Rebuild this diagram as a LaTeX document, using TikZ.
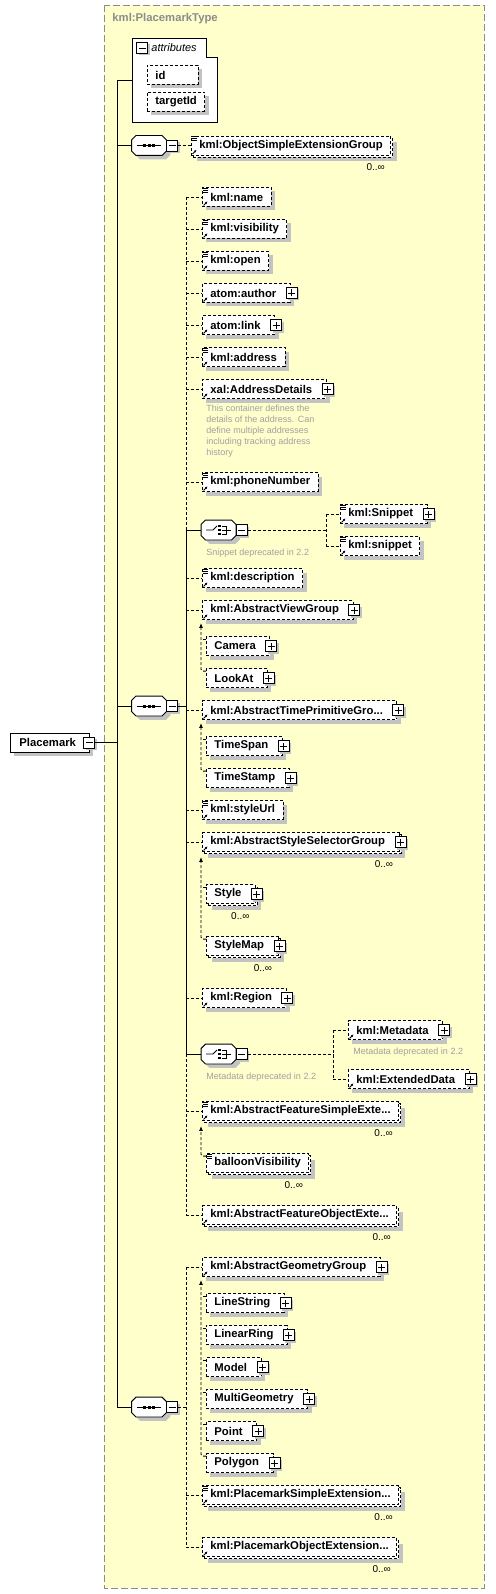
\documentclass[tikz,border=0pt]{standalone}
\usepackage{fontspec}
\setmainfont{Liberation Sans}
\usetikzlibrary{arrows.meta}
\usetikzlibrary{shadows}

\definecolor{typefill}{HTML}{FFFFCC}
\definecolor{typeframe}{HTML}{8C8C8C}
\definecolor{shadegray}{HTML}{C3C3C3}
\definecolor{notetext}{HTML}{A0A0A0}

\tikzset{
  lbl/.style={font=\fontsize{11.3}{13}\selectfont\bfseries},
  dropshade/.style={drop shadow={shadow xshift=4pt,shadow yshift=-4pt,fill=shadegray,opacity=1}},
  elem/.style={lbl,draw,densely dashed,fill=white,anchor=west,minimum height=19pt,inner xsep=8pt,inner ysep=0pt,dropshade},
  multi/.style={lbl,draw,densely dashed,fill=white,anchor=west,minimum height=19pt,inner xsep=8pt,inner ysep=0pt,
    drop shadow={shadow xshift=6pt,shadow yshift=-6pt,fill=shadegray,opacity=1},
    copy shadow={shadow xshift=2pt,shadow yshift=-2pt,draw,densely dashed,fill=white}},
  more/.style={execute at end node={\hspace{6pt}}},
  btn/.style={draw,solid,fill=white,minimum size=11pt,inner sep=0pt,
    drop shadow={shadow xshift=2pt,shadow yshift=-2pt,fill=shadegray,opacity=1}},
  plus/.style={btn,path picture={
    \draw[solid] ([xshift=2pt]path picture bounding box.west) -- ([xshift=-2pt]path picture bounding box.east);
    \draw[solid] ([yshift=2pt]path picture bounding box.south) -- ([yshift=-2pt]path picture bounding box.north);}},
  minus/.style={btn,path picture={
    \draw[solid] ([xshift=2pt]path picture bounding box.west) -- ([xshift=-2pt]path picture bounding box.east);}},
  group/.style={minimum width=34pt,minimum height=19pt,inner sep=0pt},
  conn/.style={densely dashed},
  subst/.style={densely dashed,rounded corners=2pt},
  note/.style={font=\fontsize{9}{11}\selectfont,text=notetext,inner sep=0pt},
  mult/.style={font=\fontsize{10}{12}\selectfont,inner sep=0pt,anchor=north east},
}

% octagon round a group node
\newcommand{\octagon}[1]{([xshift=4.5pt]#1.north west) -- ([xshift=-4.5pt]#1.north east) -- ([yshift=-4.5pt]#1.north east) -- ([yshift=4.5pt]#1.south east) -- ([xshift=-4.5pt]#1.south east) -- ([xshift=4.5pt]#1.south west) -- ([yshift=4.5pt]#1.south west) -- ([yshift=-4.5pt]#1.north west) -- cycle}

\begin{document}
\begin{tikzpicture}[x=1pt,y=-1pt,line width=0.9pt]
\useasboundingbox (0,0) rectangle (495,1594);

% the complex type frame
\draw[typeframe,dash pattern=on 7pt off 3pt,fill=typefill] (104,5) rectangle (484,1588);
\node[lbl,text=typeframe,anchor=west,inner sep=0pt] (typename) at (112,19) {kml:PlacemarkType};

% attributes
\draw[fill=white] (132,38) -- (206,38) -- (206,57) -- (217,57) -- (217,122) -- (132,122) -- cycle;
\node[minus] (attrm) at (142,48) {};
\node[font=\fontsize{11}{13}\selectfont\itshape,anchor=west,inner sep=0pt] (attrtitle) at (151,48) {attributes};
\node[elem,text width=35pt,align=left] (id) at (147,75) {id};
\node[elem] (targetid) at (147,101.5) {targetId};
\coordinate (attrs) at (132,80);

% root element
\node[lbl,draw,fill=white,anchor=west,minimum height=19pt,inner xsep=9pt,inner ysep=0pt,dropshade,
      execute at end node={\hspace{4pt}}] (placemark) at (10,742.5) {Placemark};
\node[minus] (pmm) at (placemark.east) {};

% sequences and choices
\node[group] (seq1) at (149,145.5) {};
\node[group] (seq2) at (149,706) {};
\node[group] (seq3) at (149,1407) {};
\node[group] (choice1) at (218.5,530) {};
\node[group] (choice2) at (218.5,1054) {};
\foreach \g in {seq1,seq2,seq3,choice1,choice2} {
  \fill[shadegray,transform canvas={shift={(4pt,-4pt)}}] \octagon{\g};
  \draw[fill=white] \octagon{\g};
  \node[minus,anchor=west] (\g-m) at (\g.east) {};
}
\foreach \g in {seq1,seq2,seq3} {
  \draw ([xshift=-12pt]\g.center) -- ([xshift=12pt]\g.center);
  \foreach \d in {-4.5,0,4.5}
    \fill ([xshift=\d pt]\g.center) +(-1.5,-1.5) rectangle +(1.5,1.5);
}
\foreach \g in {choice1,choice2} {
  \draw ([xshift=-12.5pt]\g.center) -- ([xshift=-5.5pt]\g.center) -- ([shift={(-1.5pt,4pt)}]\g.center);
  \foreach \d in {-4,0,4}
    \fill ([shift={(1pt,\d pt)}]\g.center) +(-1.3,-1.3) rectangle +(1.3,1.3);
  \draw ([shift={(3.5pt,4pt)}]\g.center) -- ([shift={(8pt,4pt)}]\g.center) -- ([shift={(8pt,-4pt)}]\g.center) -- ([shift={(3.5pt,-4pt)}]\g.center)
        ([xshift=3.5pt]\g.center) -- ([xshift=12pt]\g.center);
}

% first sequence
\node[multi] (osx) at (191,145.5) {kml:ObjectSimpleExtensionGroup};

% second sequence
\node[elem] (name) at (202,197) {kml:name};
\node[elem] (visibility) at (202,229) {kml:visibility};
\node[elem] (open) at (202,261) {kml:open};
\node[elem,more] (author) at (202,293) {atom:author};
\node[elem,more] (link) at (202,325) {atom:link};
\node[elem] (address) at (202,357) {kml:address};
\node[elem,more] (addrdetails) at (202,389) {xal:AddressDetails};
\node[note,anchor=north west,align=left] (addrnote) at (206,405) {This container defines the\\details of the address. Can\\define multiple addresses\\including tracking address\\history};
\node[elem] (phone) at (202,482) {kml:phoneNumber};
\node[elem,more] (snippetA) at (340,514) {kml:Snippet};
\node[elem] (snippetB) at (340,546) {kml:snippet};
\node[note,anchor=west] (snippetnote) at (206,553) {Snippet deprecated in 2.2};
\node[elem] (description) at (202,578) {kml:description};
\node[elem,more] (viewgroup) at (202,610) {kml:AbstractViewGroup};
\node[elem,more] (camera) at (206,646) {Camera};
\node[elem,more] (lookat) at (206,678) {LookAt};
\node[elem,more] (timegroup) at (202,710) {kml:AbstractTimePrimitiveGro...};
\node[elem,more] (timespan) at (206,746) {TimeSpan};
\node[elem,more] (timestamp) at (206,778) {TimeStamp};
\node[elem] (styleurl) at (202,810) {kml:styleUrl};
\node[multi,more] (stylegroup) at (202,842) {kml:AbstractStyleSelectorGroup};
\node[multi,more] (styleelem) at (206,894) {Style};
\node[multi,more] (stylemap) at (206,946) {StyleMap};
\node[elem,more] (region) at (202,998) {kml:Region};
\node[elem,more] (metadata) at (348,1030) {kml:Metadata};
\node[note,anchor=west] (metanoteA) at (353,1052) {Metadata deprecated in 2.2};
\node[elem,more] (extdata) at (348,1079) {kml:ExtendedData};
\node[note,anchor=west] (metanoteB) at (206,1077) {Metadata deprecated in 2.2};
\node[multi] (featsimple) at (202,1111) {kml:AbstractFeatureSimpleExte...};
\node[multi] (balloon) at (206,1163) {balloonVisibility};
\node[multi] (featobject) at (202,1215) {kml:AbstractFeatureObjectExte...};

% third sequence
\node[elem,more] (geomgroup) at (202,1267) {kml:AbstractGeometryGroup};
\node[elem,more] (linestring) at (206,1303) {LineString};
\node[elem,more] (linearring) at (206,1335) {LinearRing};
\node[elem,more] (model) at (206,1367) {Model};
\node[elem,more] (multigeom) at (206,1399) {MultiGeometry};
\node[elem,more] (point) at (206,1431) {Point};
\node[elem,more] (polygon) at (206,1463) {Polygon};
\node[multi] (pmsimple) at (202,1495) {kml:PlacemarkSimpleExtension...};
\node[multi] (pmobject) at (202,1547) {kml:PlacemarkObjectExtension...};

% expand buttons
\foreach \n in {author,link,addrdetails,snippetA,viewgroup,camera,lookat,timegroup,timespan,timestamp,stylegroup,styleelem,stylemap,region,metadata,extdata,geomgroup,linestring,linearring,model,multigeom,point,polygon}
  \node[plus] (\n-plus) at ([xshift=1pt]\n.east) {};

% simple content and reference icons
\foreach \n in {osx,name,visibility,open,address,phone,snippetA,snippetB,description,styleurl,featsimple,balloon,pmsimple}
  \foreach \k in {1,3,5}
    \draw[line width=0.7pt] ([shift={(1pt,-\k pt)}]\n.north west) -- +(5,0);
\foreach \n in {osx,name,visibility,open,author,link,address,addrdetails,phone,snippetA,snippetB,description,viewgroup,timegroup,styleurl,stylegroup,region,metadata,extdata,featsimple,featobject,geomgroup,pmsimple,pmobject}
  \draw[line width=0.8pt,-{Latex[length=2.5pt,width=2.5pt]}] ([shift={(1.5pt,1.5pt)}]\n.south west) -- +(4pt,4pt);

% occurrences
\foreach \n in {osx,stylegroup,styleelem,stylemap,featsimple,balloon,featobject,pmsimple,pmobject}
  \node[mult] (\n-mult) at ([shift={(-6pt,-8pt)}]\n.south east) {0..∞};

% main spine
\coordinate (spine) at (117,80);
\draw (attrs) -- (spine) -- (seq3.west -| spine);
\foreach \g in {seq1,seq2,seq3}
  \draw (\g.west -| spine) -- (\g.west);
\draw (pmm.east) -- (pmm.east -| spine);

% first sequence link
\draw[conn] (seq1-m.east) -- (osx.west);

% second sequence links
\coordinate (s2) at (186,706);
\draw (seq2-m.east) -- (s2);
\draw[conn] (name.west -| s2) -- (choice1.west -| s2);
\draw (choice1.west -| s2) -- (choice2.west -| s2);
\draw[conn] (choice2.west -| s2) -- (featobject.west -| s2);
\foreach \n in {name,visibility,open,author,link,address,addrdetails,phone,description,viewgroup,timegroup,styleurl,stylegroup,region,featsimple,featobject}
  \draw[conn] (\n.west -| s2) -- (\n.west);
\foreach \n in {choice1,choice2}
  \draw (\n.west -| s2) -- (\n.west);

% choice links
\coordinate (c1) at (326,530);
\draw[conn] (choice1-m.east) -- (c1);
\draw[conn] (snippetA.west -| c1) -- (snippetB.west -| c1);
\foreach \n in {snippetA,snippetB}
  \draw[conn] (\n.west -| c1) -- (\n.west);
\coordinate (c2) at (333,1054);
\draw[conn] (choice2-m.east) -- (c2);
\draw[conn] (metadata.west -| c2) -- (extdata.west -| c2);
\foreach \n in {metadata,extdata}
  \draw[conn] (\n.west -| c2) -- (\n.west);

% substitution groups
\draw[subst,-{Latex[length=5pt,width=4pt]}] ([yshift=-3pt]lookat.north west) -| ([shift={(-1pt,-3pt)}]viewgroup.south west);
\draw[subst] ([yshift=-3pt]camera.north west) -- ++(-5,0);
\draw[subst,-{Latex[length=5pt,width=4pt]}] ([yshift=-3pt]timestamp.north west) -| ([shift={(-1pt,-3pt)}]timegroup.south west);
\draw[subst] ([yshift=-3pt]timespan.north west) -- ++(-5,0);
\draw[subst,-{Latex[length=5pt,width=4pt]}] ([yshift=-3pt]stylemap.north west) -| ([shift={(-1pt,-5pt)}]stylegroup.south west);
\draw[subst] ([yshift=-3pt]styleelem.north west) -- ++(-5,0);
\draw[subst,-{Latex[length=5pt,width=4pt]}] ([yshift=-3pt]balloon.north west) -| ([shift={(-1pt,-5pt)}]featsimple.south west);

% third sequence links
\coordinate (s3) at (186,1407);
\draw[conn] (seq3-m.east) -- (s3);
\draw[conn] (geomgroup.west -| s3) -- (pmobject.west -| s3);
\foreach \n in {geomgroup,pmsimple,pmobject}
  \draw[conn] (\n.west -| s3) -- (\n.west);
\draw[subst,-{Latex[length=5pt,width=4pt]}] ([yshift=-3pt]polygon.north west) -| ([shift={(-1pt,-3pt)}]geomgroup.south west);
\foreach \n in {linestring,linearring,model,multigeom,point}
  \draw[subst] ([yshift=-3pt]\n.north west) -- ++(-5,0);

\end{tikzpicture}
\end{document}
